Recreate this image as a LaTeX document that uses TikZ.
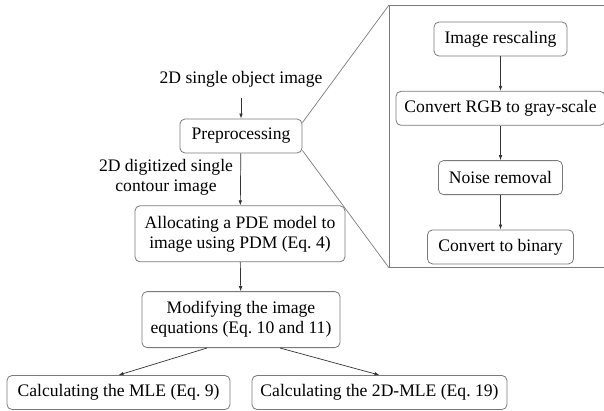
\documentclass[tikz,border=0pt]{standalone}
\usepackage{fontspec}
\setmainfont{Liberation Serif}
\usetikzlibrary{arrows.meta,positioning}
\definecolor{EdgeGray}{HTML}{7A7A7A}
\definecolor{InkGray}{HTML}{333333}

\begin{document}
\begin{tikzpicture}[
      x=1pt, y=1pt,
      font=\fontsize{17.6}{20}\selectfont,
      box/.style={
        rounded corners=5pt,
        minimum height=34pt,
        draw=EdgeGray,
        line width=0.8pt,
        inner xsep=8pt,
        align=center
      },
      tallbox/.style={box, minimum height=56pt},
      tag/.style={align=center, inner sep=0pt},
      flow/.style={-{Latex[length=5pt,width=3.6pt]}, draw=InkGray, line width=0.7pt},
      zoomline/.style={draw=EdgeGray, line width=0.7pt},
      node distance=34.5pt
    ]
      \useasboundingbox (0,0) rectangle (604,-410);
      % main column
      \node[box, minimum width=122pt] (prep) at (241,-136) {Preprocessing};
      \node[tag, above=31pt of prep] (input) {2D single object image};
      \node[tag] (contour) at (166,-177) {2D digitized single\\contour image};
      \node[tallbox, minimum width=210pt, below=52pt of prep, xshift=-1pt] (alloc) {Allocating a PDE model to\\image using PDM (Eq.~4)};
      \node[tallbox, minimum width=198pt, below=29pt of alloc, xshift=1pt] (modify) {Modifying the image\\equations (Eq.~10 and 11)};
      \node[box, minimum width=223pt] (mle) at (118.5,-392.5) {Calculating the MLE (Eq.~9)};
      \node[box, minimum width=255pt] (mletwo) at (379.5,-392.5) {Calculating the 2D-MLE (Eq.~19)};
      \draw[flow] ([yshift=-10pt]input.south) -- (prep);
      \draw[flow] (prep) -- (alloc);
      \draw[flow] (alloc) -- (modify);
      \draw[flow] ([xshift=-34pt]modify.south) -- (mle.north);
      \draw[flow] ([xshift=39pt]modify.south) -- (mletwo.north);
      % zoomed preprocessing steps
      \node[draw=EdgeGray, line width=0.8pt, inner sep=0pt, minimum width=235pt, minimum height=262pt, anchor=north west] (zoom) at (389,-5) {};
      \draw[zoomline] ([yshift=-4pt]prep.north east) -- (zoom.north west);
      \draw[zoomline] ([yshift=3pt]prep.south east) -- (zoom.south west);
      \node[box, minimum width=133pt] (rescale) at (500.5,-39) {Image rescaling};
      \node[box, minimum width=209pt, below=of rescale] (gray) {Convert RGB to gray-scale};
      \node[box, minimum width=124pt, below=of gray] (noise) {Noise removal};
      \node[box, minimum width=146pt, below=of noise] (binary) {Convert to binary};
      \draw[flow] (rescale) -- (gray);
      \draw[flow] (gray) -- (noise);
      \draw[flow] (noise) -- (binary);
    \end{tikzpicture}
\end{document}
